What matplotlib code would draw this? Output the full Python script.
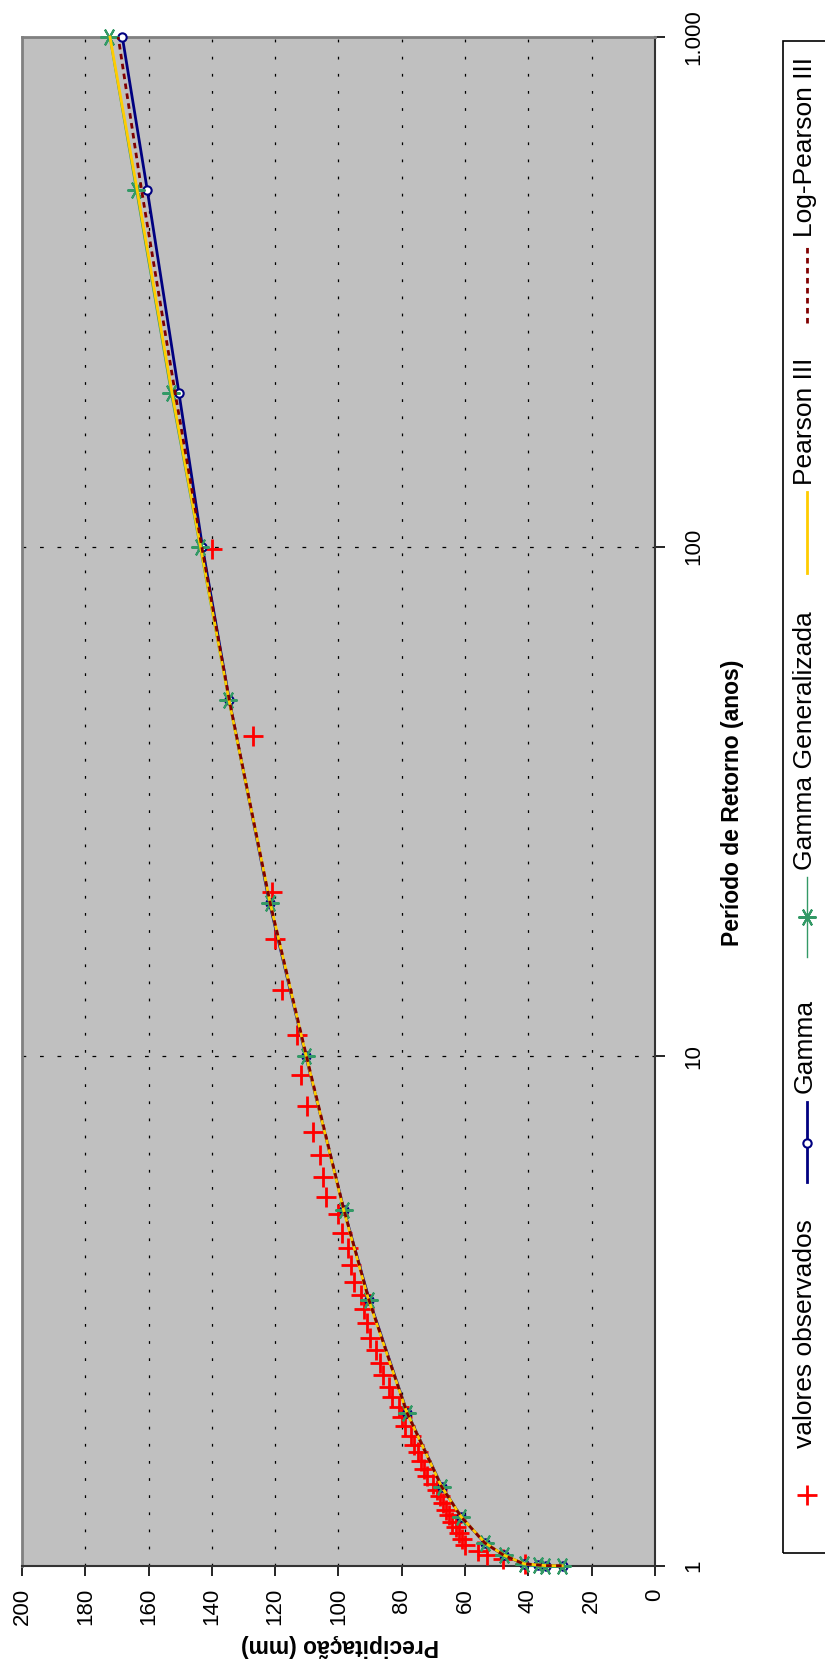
import numpy as np
import matplotlib.pyplot as plt
from matplotlib.lines import Line2D
from matplotlib.patches import Rectangle

# return periods (anos) used for the fitted distributions
t_fit = [1.001, 1.002, 1.005, 1.01, 1.05, 1.11, 1.25, 1.43, 2, 3.33, 5,
         10, 20, 50, 100, 200, 500, 1000]
gamma = [29.0, 34.5, 37.0, 41.5, 47.8, 53.8, 61.3, 67.3, 78.3, 90.3, 98.3,
         110.3, 121.8, 134.5, 143.0, 150.4, 160.4, 168.3]
gamma_gen = [29.5, 34.8, 37.0, 41.4, 47.7, 53.7, 61.3, 67.4, 78.4, 90.5, 98.4,
             110.2, 121.7, 134.8, 143.9, 153.0, 164.0, 172.4]
pearson3 = [29.3, 34.7, 37.0, 41.4, 47.7, 53.7, 61.3, 67.4, 78.4, 90.5, 98.4,
            110.2, 121.6, 134.6, 143.6, 152.6, 163.6, 172.2]
log_pearson3 = [29.5, 34.8, 37.2, 41.6, 47.8, 53.8, 61.3, 67.4, 78.4, 90.4, 98.3,
                110.1, 121.6, 134.5, 143.2, 151.6, 162.2, 169.6]

# observed annual maxima and their plotting positions
t_obs = [99, 42.5, 21, 17, 13.5, 11, 9.2, 8, 7.1, 6.4, 5.8, 5.3, 4.9, 4.5,
         4.2, 3.9, 3.6, 3.4, 3.2, 3.0, 2.8, 2.65, 2.5, 2.37, 2.25, 2.15, 2.05,
         1.96, 1.88, 1.8, 1.73, 1.67, 1.61, 1.55, 1.5, 1.45, 1.41, 1.37, 1.33,
         1.29, 1.26, 1.22, 1.19, 1.16, 1.13, 1.1, 1.07, 1.05, 1.03, 1.01]
p_obs = [140, 127, 121, 120, 118, 113, 112, 110, 108, 106, 105, 104, 100, 99,
         97, 96, 95, 93, 92, 91, 90, 88, 87, 86, 84, 83, 81, 80, 79, 77, 76, 75,
         74, 73, 72, 70, 69, 68, 67, 66, 65, 64, 63, 62, 61, 60, 56, 53, 48, 41]

x_ticks = list(range(0, 201, 20))
t_ticks = [1, 10, 100, 1000]
t_labels = ['1', '10', '100', '1.000']

W, H = 825, 1673
plt.rcParams['font.family'] = ['Liberation Sans', 'DejaVu Sans']


def fx(px):
    return px / W


def fy(py):
    return 1 - py / H


fig = plt.figure(figsize=(W / 100, H / 100), dpi=100)
ax = fig.add_axes([fx(22), fy(1566), (655 - 22) / W, (1566 - 37) / H])
ax.set_facecolor('#C0C0C0')

ax.plot(p_obs, t_obs, linestyle='none', marker='+', color='#FF0000',
        markersize=15, markeredgewidth=2, zorder=3, clip_on=False)
ax.plot(gamma, t_fit, color='#000080', lw=2, marker='o', markersize=6,
        mfc='white', mec='#000080', mew=1.5, zorder=4, clip_on=False)
ax.plot(gamma_gen, t_fit, color='#339966', lw=1, marker=(6, 2, 90),
        markersize=13, mew=1.5, zorder=5, clip_on=False)
ax.plot(pearson3, t_fit, color='#FFCC00', lw=2, zorder=6, clip_on=False)
ax.plot(log_pearson3, t_fit, color='#800000', lw=2, linestyle=(0, (2, 1.6)),
        zorder=7, clip_on=False)

ax.set_yscale('log')
ax.set_ylim(1, 1000)
ax.set_xlim(200, 0)
ax.set_xticks(x_ticks)
ax.set_xticklabels([str(v) for v in x_ticks])
ax.set_yticks(t_ticks)
ax.set_yticklabels(t_labels)
ax.yaxis.set_minor_locator(plt.NullLocator())
ax.yaxis.tick_right()

ax.tick_params(axis='x', direction='out', length=7, width=1.2, pad=9,
               labelsize=16, labelrotation=90)
ax.tick_params(axis='y', direction='out', length=7, width=1.2, pad=13,
               labelsize=16, labelrotation=90)
for lab in ax.get_yticklabels():
    lab.set_verticalalignment('center')
    lab.set_horizontalalignment('left')
for lab in ax.get_xticklabels():
    lab.set_verticalalignment('top')

for v in x_ticks[1:-1]:
    ax.axvline(v, color='black', lw=0.9, linestyle=(0, (2.2, 11.5)), zorder=1)
for v in [10, 100]:
    ax.axhline(v, color='black', lw=0.9, linestyle=(0, (3, 11)), zorder=1)

for side in ['left', 'top']:
    ax.spines[side].set_color('#808080')
    ax.spines[side].set_linewidth(2)
for side in ['right', 'bottom']:
    ax.spines[side].set_color('#333333')
    ax.spines[side].set_linewidth(1.5)

# axis titles (chart is laid out on its side)
fig.text(fx(340), fy(1646), 'Precipitação (mm)', rotation=180, ha='center',
         va='center', fontsize=16.5, fontweight='bold')
fig.text(fx(732), fy(803), 'Período de Retorno (anos)', rotation=90,
         ha='center', va='center', fontsize=16.5, fontweight='bold')
fig.text(fx(4), fy(790), 'Posto Bolivar de Santana - 05-1980', rotation=90,
         ha='right', va='center', fontsize=18, fontweight='bold')

# legend box drawn sideways
fig.add_artist(Rectangle((fx(783), fy(1553)), fx(870) - fx(783),
                         fy(41) - fy(1553), transform=fig.transFigure,
                         fill=False, ec='black', lw=1.2))
lx = fx(807)
fig.add_artist(Line2D([lx], [fy(1495)], marker='+', color='#FF0000',
                      markersize=15, mew=2, transform=fig.transFigure))
fig.add_artist(Line2D([lx, lx], [fy(1182), fy(1102)], color='#000080', lw=2,
                      transform=fig.transFigure))
fig.add_artist(Line2D([lx], [fy(1143)], marker='o', markersize=6, mfc='white',
                      mec='#000080', mew=1.5, transform=fig.transFigure))
fig.add_artist(Line2D([lx, lx], [fy(957), fy(877)], color='#339966', lw=1,
                      transform=fig.transFigure))
fig.add_artist(Line2D([lx], [fy(917)], marker=(6, 2, 90), markersize=13,
                      color='#339966', mew=1.5, transform=fig.transFigure))
fig.add_artist(Line2D([lx, lx], [fy(573), fy(492)], color='#FFCC00', lw=2,
                      transform=fig.transFigure))
fig.add_artist(Line2D([lx, lx], [fy(323), fy(243)], color='#800000', lw=2,
                      linestyle=(0, (2, 1.6)), transform=fig.transFigure))

legend_items = [('valores observados', 1448), ('Gamma', 1093),
                ('Gamma Generalizada', 870), ('Pearson III', 485),
                ('Log-Pearson III', 237)]
for name, start in legend_items:
    fig.text(fx(805), fy(start), name, rotation=90, ha='center', va='bottom',
             fontsize=19)

fig.savefig('out.png', dpi=100)
